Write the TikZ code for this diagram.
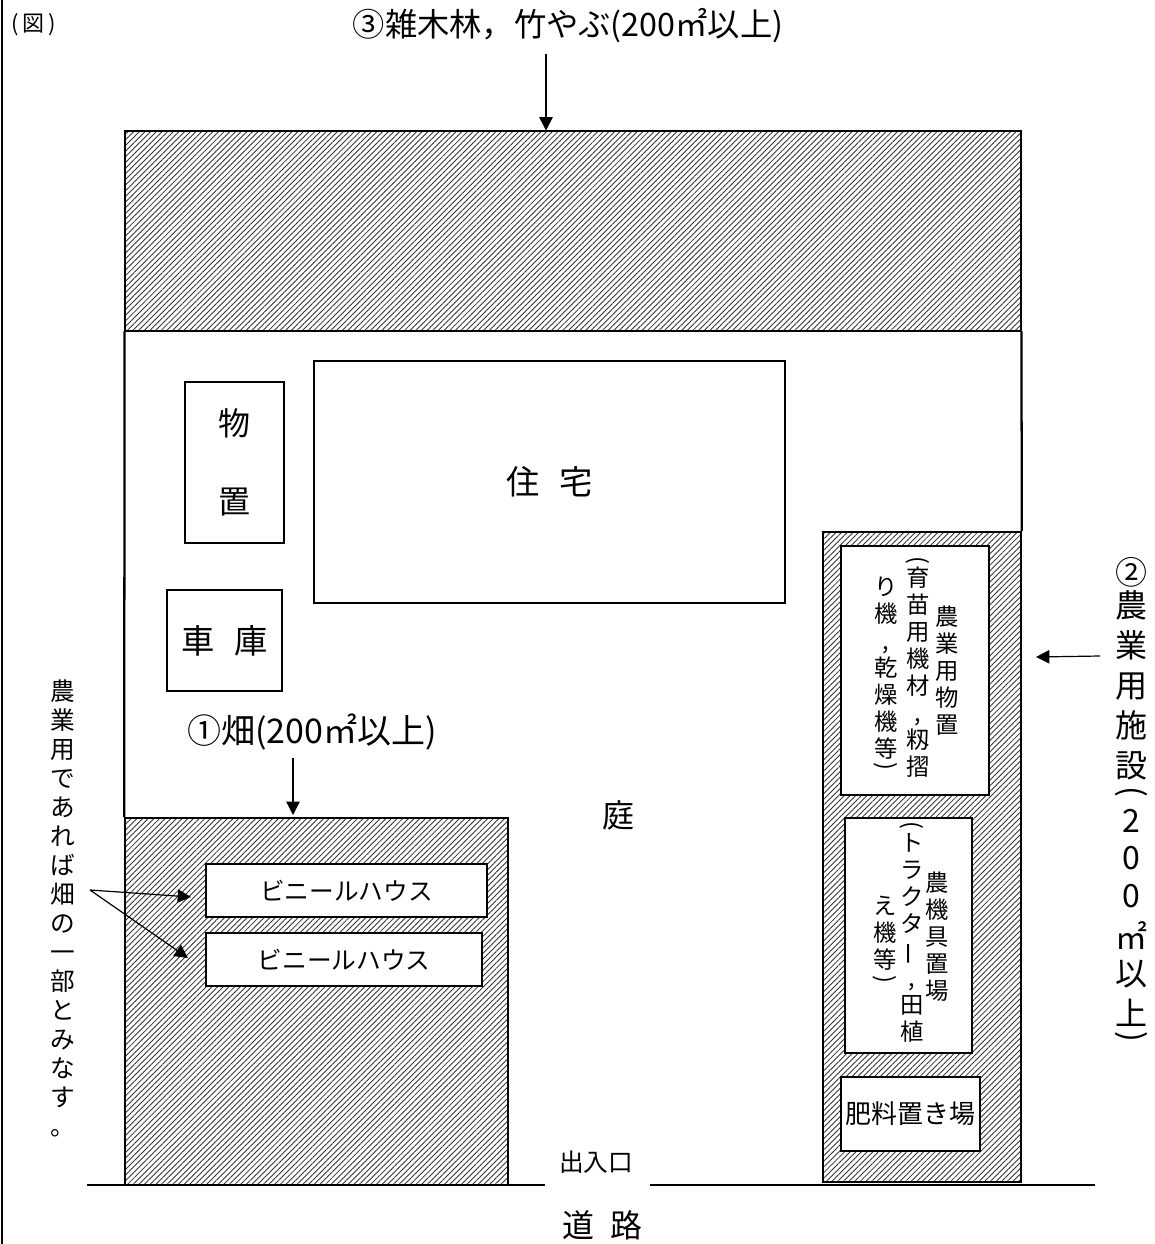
\documentclass[tikz,border=0pt]{standalone}
\usepackage{fontspec}
\setmainfont{Noto Sans CJK JP}
\usetikzlibrary{positioning,patterns.meta,arrows.meta}
\lineskiplimit=-100pt
\newcommand{\vlp}{\rotatebox[origin=c]{-90}{(}}
\newcommand{\vrp}{\rotatebox[origin=c]{-90}{)}}
\tikzset{
  zone/.style={rectangle, draw=black, line width=1.2pt, inner sep=0pt,
    pattern={Lines[angle=45, distance=3pt, line width=0.65pt]}, pattern color=black!80},
  bldg/.style={rectangle, draw=black, fill=white, line width=1.2pt, inner sep=0pt, align=center},
  vtext/.style={inner sep=0pt, align=center, font=\fontsize{17.5}{20.25}\selectfont},
  lbl/.style={inner sep=0pt, align=center},
  pointer/.style={-{Triangle[length=10pt,width=10pt]}, line width=0.9pt},
  siteline/.style={draw=black, line width=1.7pt}
}
\begin{document}
\begin{tikzpicture}[x=0.75pt, y=-0.75pt]
\useasboundingbox (0,0) rectangle (1154,1244);

% Frame
\coordinate (frametop) at (2,0);
\coordinate (framebot) at (2,1244);
\draw[line width=1.6pt] (frametop) -- (framebot);
\node[lbl, font=\fontsize{16.5}{18}\selectfont] (figmark) at (34,25) {(\,図\,)};

% Hatched zones
\node[zone, minimum width=672pt, minimum height=150pt] (forest) at (573,231) {};
\node[zone, minimum width=287.25pt, minimum height=275.25pt] (field) at (316.5,1001.5) {};
\node[zone, minimum width=148.5pt, minimum height=487.5pt] (facility) at (922,857) {};

% Site edges
\draw[siteline] (forest.south west) -- (field.north west);
\draw[siteline] (forest.south east) -- (facility.north east);

% Buildings
\node[bldg, minimum width=74.25pt, minimum height=120.75pt, font=\fontsize{24}{59}\selectfont] (storage) at (234.5,462.5) {物\\置};
\node[bldg, minimum width=86.25pt, minimum height=75.75pt, font=\fontsize{25}{28}\selectfont] (garage) at (224.5,640.5) {車\hspace{0.6em}庫};
\node[bldg, minimum width=353.25pt, minimum height=181.5pt, font=\fontsize{25}{28}\selectfont] (house) at (549.5,482) {住\hspace{0.6em}宅};
\node[bldg, minimum width=210.75pt, minimum height=39.75pt, font=\fontsize{18.5}{22}\selectfont] (vinyla) at (346.5,890.5) {ビニールハウス};
\node[bldg, minimum width=207pt, minimum height=39.75pt, font=\fontsize{18.5}{22}\selectfont] (vinylb) at (344,959.5) {ビニールハウス};
\node[bldg, minimum width=111pt, minimum height=186.75pt] (shed) at (915,670.5) {};
\node[bldg, minimum width=95.25pt, minimum height=176.25pt] (machine) at (908.5,935.5) {};
\node[bldg, minimum width=104.25pt, minimum height=55.5pt, font=\fontsize{19.5}{22}\selectfont] (fertilizer) at (910.5,1114) {肥料置き場};

% Shed text
\node[vtext] (shedname) at (947,671) {農\\業\\用\\物\\置};
\node[vtext] (shedmid) at (918,667) {\vlp\\[-6.75pt]育\\苗\\用\\機\\材\\,\\籾\\摺};
\node[vtext] (shedleft) at (886,675) {り\\機\\,\\乾\\燥\\機\\等\\[-8pt]\vrp};

% Machine store text
\node[vtext] (machname) at (937,937) {農\\機\\具\\置\\場};
\node[vtext] (machmid) at (912,932) {\vlp\\[-6.75pt]ト\\ラ\\ク\\タ\\\rotatebox[origin=c]{90}{ー}\\,\\田\\植};
\node[vtext] (machleft) at (885,941) {え\\機\\等\\[-6.75pt]\vrp};

% Labels
\node[lbl, font=\fontsize{24.2}{26}\selectfont] (forestlbl) at (568,26) {③雑木林，竹やぶ(200㎡以上)};
\node[lbl, font=\fontsize{25.5}{28}\selectfont] (fieldlbl) at (312,732) {①畑(200㎡以上)};
\node[lbl, font=\fontsize{24}{30}\selectfont] (facilitylbl) at (1131,802) {②\\[-5.25pt]農\\業\\用\\施\\設\\[-11.25pt]\vlp\\[-7.5pt]2\\[-2.25pt]0\\[-1.5pt]0\\[1.5pt]㎡\\[-3pt]以\\上\\[-13.5pt]\vrp};
\node[lbl, font=\fontsize{18.5}{21.75}\selectfont] (notelbl) at (63,908) {農\\業\\用\\で\\あ\\れ\\ば\\畑\\の\\一\\部\\と\\み\\な\\す\\。};
\node[lbl, font=\fontsize{24}{28}\selectfont] (garden) at (618,815) {庭};
\node[lbl, font=\fontsize{18.5}{20}\selectfont] (gate) at (596,1162) {出入口};
\node[lbl, font=\fontsize{24}{28}\selectfont] (road) at (602,1225) {道\hspace{0.5em}路};

% Road
\coordinate (roadaa) at (87,1185);
\coordinate (roadab) at (545,1185);
\coordinate (roadba) at (650,1185);
\coordinate (roadbb) at (1095,1185);
\draw[siteline] (roadaa) -- (roadab);
\draw[siteline] (roadba) -- (roadbb);

% Arrows
\coordinate (foresttail) at (546,54);
\coordinate (fieldtail) at (293,758);
\coordinate (fieldtip) at (293,815);
\coordinate (factail) at (1100,656);
\coordinate (factip) at (1036,657);
\coordinate (notetail) at (90,890);
\coordinate (notetipa) at (191,897);
\coordinate (notetipb) at (188,958);
\draw[pointer] (foresttail) -- (foresttail |- forest.north);
\draw[pointer] (fieldtail) -- (fieldtip);
\draw[pointer] (factail) -- (factip);
\draw[pointer] (notetail) -- (notetipa);
\draw[pointer] (notetail) -- (notetipb);

\end{tikzpicture}
\end{document}
